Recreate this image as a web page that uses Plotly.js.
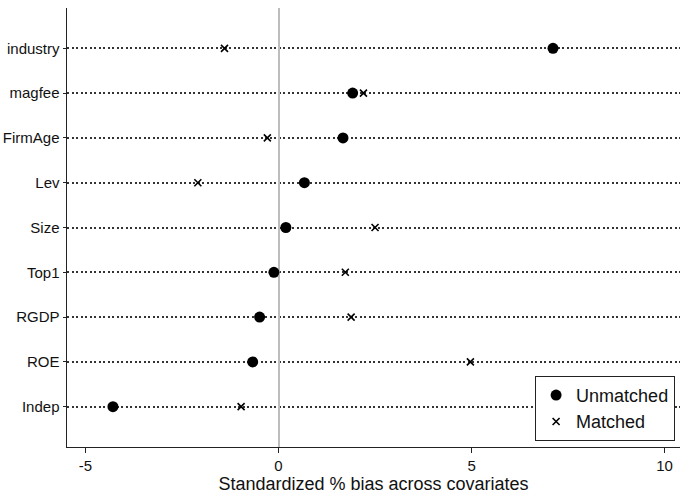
<!DOCTYPE html>
<html>
<head>
<meta charset="utf-8">
<script src="https://cdn.plot.ly/plotly-3.0.1.min.js"></script>
<style>html,body{margin:0;padding:0;background:#fff;}#chart{width:688px;height:495px;}</style>
</head>
<body>
<div id="chart"></div>
<script>
// Covariates, top to bottom
const covariates = ["industry", "magfee", "FirmAge", "Lev", "Size", "Top1", "RGDP", "ROE", "Indep"];
// Standardized % bias, unmatched sample
const unmatched = [7.11, 1.92, 1.67, 0.67, 0.19, -0.12, -0.49, -0.67, -4.29];
// Standardized % bias, matched sample
const matched = [-1.40, 2.20, -0.29, -2.09, 2.50, 1.73, 1.88, 4.97, -0.97];
const xTickVals = [-5, 0, 5, 10];

const font = "Liberation Sans, Arial, sans-serif";

const traces = [
  {
    type: "scatter", mode: "markers", name: "Unmatched",
    x: unmatched, y: covariates,
    marker: {symbol: "circle", size: 11, color: "#000"},
    cliponaxis: false
  },
  {
    type: "scatter", mode: "markers", name: "Matched",
    x: matched, y: covariates,
    marker: {symbol: "x-thin-open", size: 7, color: "#000", line: {width: 1.6, color: "#000"}},
    cliponaxis: false
  }
];

const layout = {
  width: 688, height: 495,
  margin: {l: 67, r: 8, t: 8, b: 48},
  paper_bgcolor: "#fff", plot_bgcolor: "#fff",
  font: {family: font, color: "#111", size: 14},
  showlegend: true,
  legend: {
    x: 0.992, xanchor: "right", y: 0.014, yanchor: "bottom",
    bordercolor: "#222", borderwidth: 1, bgcolor: "#fff",
    font: {family: font, size: 18, color: "#111"},
    tracegroupgap: 0
  },
  xaxis: {
    range: [-5.48, 10.4],
    tickvals: xTickVals,
    ticktext: xTickVals.map(String),
    ticks: "outside", ticklen: 5, tickcolor: "#222", tickwidth: 1,
    showline: true, linecolor: "#222", linewidth: 1,
    showgrid: false,
    zeroline: true, zerolinecolor: "#bdbdbd", zerolinewidth: 2,
    tickfont: {size: 15, family: font},
    title: {text: "Standardized % bias across covariates", font: {size: 18, family: font, color: "#111"}, standoff: 4}
  },
  yaxis: {
    type: "category",
    categoryorder: "array", categoryarray: covariates,
    range: [8.9, -0.9],
    ticks: "outside", ticklen: 3, tickcolor: "#222",
    showline: true, linecolor: "#222", linewidth: 1.5,
    showgrid: true, gridcolor: "#333", gridwidth: 2, griddash: "2px,2.5px",
    zeroline: false,
    tickfont: {size: 15, family: font}
  }
};

Plotly.newPlot("chart", traces, layout, {displayModeBar: false, staticPlot: true});
</script>
</body>
</html>
